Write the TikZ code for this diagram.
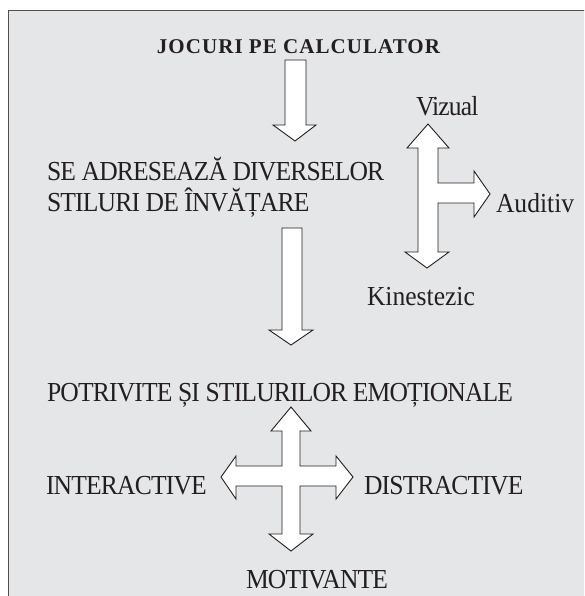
\documentclass[tikz,border=0pt]{standalone}
\usepackage{fontspec}
\setmainfont{Liberation Serif}[FakeStretch=0.93]
\newfontfamily\capsfont{Liberation Serif}[FakeStretch=0.93, LetterSpace=-3]
\newfontfamily\titlefont{Liberation Serif}[LetterSpace=5]
\definecolor{bgray}{RGB}{229,230,232}
\definecolor{framec}{RGB}{80,80,80}
\definecolor{ink}{RGB}{35,31,32}
\tikzset{
  lbl/.style={inner sep=0pt, outer sep=0pt, anchor=base west, text=ink, font=\fontsize{27.5}{31}\selectfont},
  clbl/.style={lbl, font=\capsfont\fontsize{27.5}{31}\selectfont},
  blockarrow/.style={draw=ink, fill=white, line width=0.9pt, line join=miter}
}
\begin{document}
\begin{tikzpicture}[x=1pt,y=-1pt]
\useasboundingbox (0,0) rectangle (584,596);
\clip (0,0) rectangle (584,596);
\fill[white] (0,0) rectangle (584,596);
\draw[framec, fill=bgray, line width=1.2pt] (8.5,10.5) rectangle (600,620);

% texts
\node[inner sep=0pt, anchor=base, text=ink, font=\titlefont\bfseries\fontsize{21}{24}\selectfont] (title) at (298.5,54) {JOCURI PE CALCULATOR};
\node[clbl] (se1) at (47,180) {SE ADRESEAZĂ DIVERSELOR};
\node[clbl] (se2) at (47,211) {STILURI DE ÎNVĂȚARE};
\node[clbl] (viz) at (416,116) {Vizual};
\node[lbl] (aud) at (496,212) {Auditiv};
\node[lbl] (kin) at (367,305) {Kinestezic};
\node[clbl] (pot) at (47,401) {POTRIVITE ȘI STILURILOR EMOȚIONALE};
\node[clbl] (inter) at (46,494) {INTERACTIVE};
\node[clbl] (dist) at (364,494) {DISTRACTIVE};
\node[clbl] (mot) at (246,588) {MOTIVANTE};

% arrow 1
\draw[blockarrow] (285,60) -- (306,60) -- (306,125) -- (316,125) -- (295,141) -- (273,125) -- (285,125) -- cycle;
% arrow 2
\draw[blockarrow] (282,228) -- (302,228) -- (302,330) -- (313,330) -- (291,345) -- (269,330) -- (282,330) -- cycle;
% Vizual / Auditiv / Kinestezic arrow
\draw[blockarrow] (428,124) -- (449,148) -- (438,148) -- (438,183) -- (474,183) -- (474,171) -- (490,194) -- (474,217) -- (474,203) -- (438,203) -- (438,252) -- (449,252) -- (427,268) -- (405,252) -- (418,252) -- (418,148) -- (407,148) -- cycle;
% cross arrow
\draw[blockarrow] (291,407) -- (311,431) -- (300,431) -- (300,466) -- (336,466) -- (336,456) -- (353,477) -- (336,499) -- (336,486) -- (300,486) -- (300,534) -- (313,534) -- (291,551) -- (269,534) -- (282,534) -- (282,486) -- (236,486) -- (236,499) -- (221,477) -- (236,456) -- (236,466) -- (282,466) -- (282,431) -- (271,431) -- cycle;
\end{tikzpicture}
\end{document}
